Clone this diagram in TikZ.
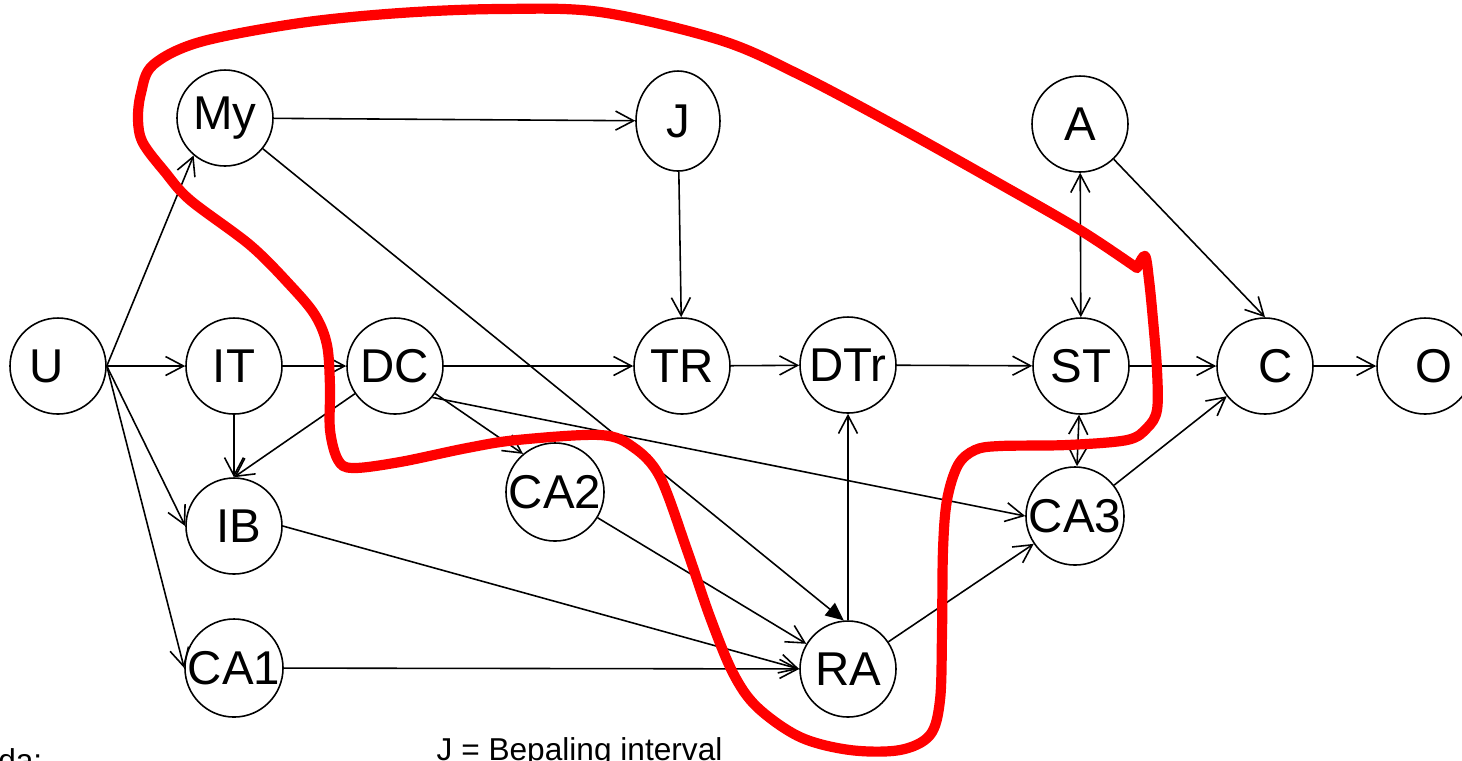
\documentclass[tikz,border=0pt]{standalone}
\usepackage{fontspec}
\setmainfont{Liberation Sans}
\usetikzlibrary{shapes, arrows.meta, positioning}

\begin{document}
\begin{tikzpicture}[x=0.1mm, y=-0.1mm,
            circ/.style={draw, circle, minimum size=9.6mm, inner sep=0pt, line width=0.45pt, font=\fontsize{13.5}{16}\selectfont},
            oval/.style={draw, ellipse, minimum width=8.4mm, minimum height=10mm, inner sep=0pt, line width=0.45pt, font=\fontsize{13.5}{16}\selectfont},
            arrow/.style={-{Straight Barb[length=1.8mm, width=1.9mm]}, line width=0.45pt},
            twoway/.style={{Straight Barb[length=1.8mm, width=1.9mm]}-{Straight Barb[length=1.8mm, width=1.9mm]}, line width=0.45pt},
            solidtip/.style={-{Triangle[length=1.8mm, width=1.6mm]}, line width=0.45pt},
            redline/.style={red, line width=2.9pt, line cap=round, line join=round},
            legtext/.style={inner sep=0pt, font=\fontsize{9}{11}\selectfont}]

            \useasboundingbox (0,0) rectangle (1462,760);
            \clip (0,0) rectangle (1462,760);

            \node[circ] (U) at (58,366) {U\hspace*{2.2mm}};
            \node[circ] (My) at (225,118) {My};
            \node[circ] (IT) at (234,366) {IT};
            \node[circ] (IB) at (234,526) {\hspace*{1mm}IB};
            \node[circ] (CA1) at (234,668) {CA1};
            \node[circ] (DC) at (395,366) {DC};
            \node[oval] (J) at (678,121) {J};
            \node[circ] (TR) at (682,366) {TR};
            \node[circ] (CA2) at (555,492) {CA2};
            \node[circ] (DTr) at (848,365) {DTr};
            \node[circ] (RA) at (848,669) {RA};
            \node[circ] (A) at (1080,124) {A};
            \node[circ] (ST) at (1081,366) {ST};
            \node[circ] (CA3) at (1075,516) {CA3};
            \node[circ] (C) at (1265,366) {\hspace*{2.2mm}C};
            \node[circ] (O) at (1425,366) {\hspace*{1.8mm}O};

            \node[legtext, anchor=base east] (leg) at (43,771) {da:};
            \node[legtext, anchor=base west] (legJ) at (436,760) {J = Bepaling interval};

            \draw[arrow] (U.east) -- (My.-130);
            \draw[arrow] (U.east) -- (IT);
            \draw[arrow] (U.east) -- (IB.west);
            \draw[arrow] (U.east) -- (CA1.west);
            \draw[arrow] (My) -- (J);
            \draw[solidtip] (My) -- (RA.95);
            \draw[arrow] (J) -- (TR);
            \draw[arrow] (IT) -- (DC);
            \draw[arrow] (IT) -- (IB);
            \draw[arrow] (DC) -- (IB.north);
            \draw[arrow] (DC) -- (TR);
            \draw[arrow] (DC) -- (CA2.130);
            \draw[arrow] (DC.-40) -- (CA3.west);
            \draw[arrow] (TR) -- (DTr);
            \draw[arrow] (RA) -- (DTr);
            \draw[arrow] (DTr) -- (ST);
            \draw[twoway] (A) -- (ST);
            \draw[twoway] (ST) -- (CA3);
            \draw[arrow] (A) -- (C.north);
            \draw[arrow] (ST) -- (C);
            \draw[arrow] (CA3) -- (C);
            \draw[arrow] (C) -- (O);
            \draw[arrow] (IB.east) -- (RA.west);
            \draw[arrow] (CA1) -- (RA);
            \draw[arrow] (CA2) -- (RA);
            \draw[arrow] (RA) -- (CA3);

            % freehand boundary
            \draw[redline] plot[smooth, tension=0.55] coordinates {
              (1137,268) (1145,256) (1149,280) (1153,320) (1157,370) (1157,410)
              (1147,428) (1127,440) (1067,445) (1000,446) (975,450) (958,465)
              (947,500) (943,550) (942,633) (940,700) (930,735) (900,750)
              (850,750) (800,737) (757,707) (733,673) (710,617) (687,550)
              (660,477) (633,447) (600,435) (517,440) (467,448) (400,462)
              (353,468) (338,460) (330,430) (330,387) (327,345) (315,315)
              (290,285) (250,245) (190,200) (165,172) (143,143) (138,120)
              (141,93) (153,65) (200,42) (300,23) (400,13) (500,9) (600,12)
              (720,40) (800,75) (900,128) (1000,184) (1080,230) (1137,268)};
        \end{tikzpicture}
\end{document}
